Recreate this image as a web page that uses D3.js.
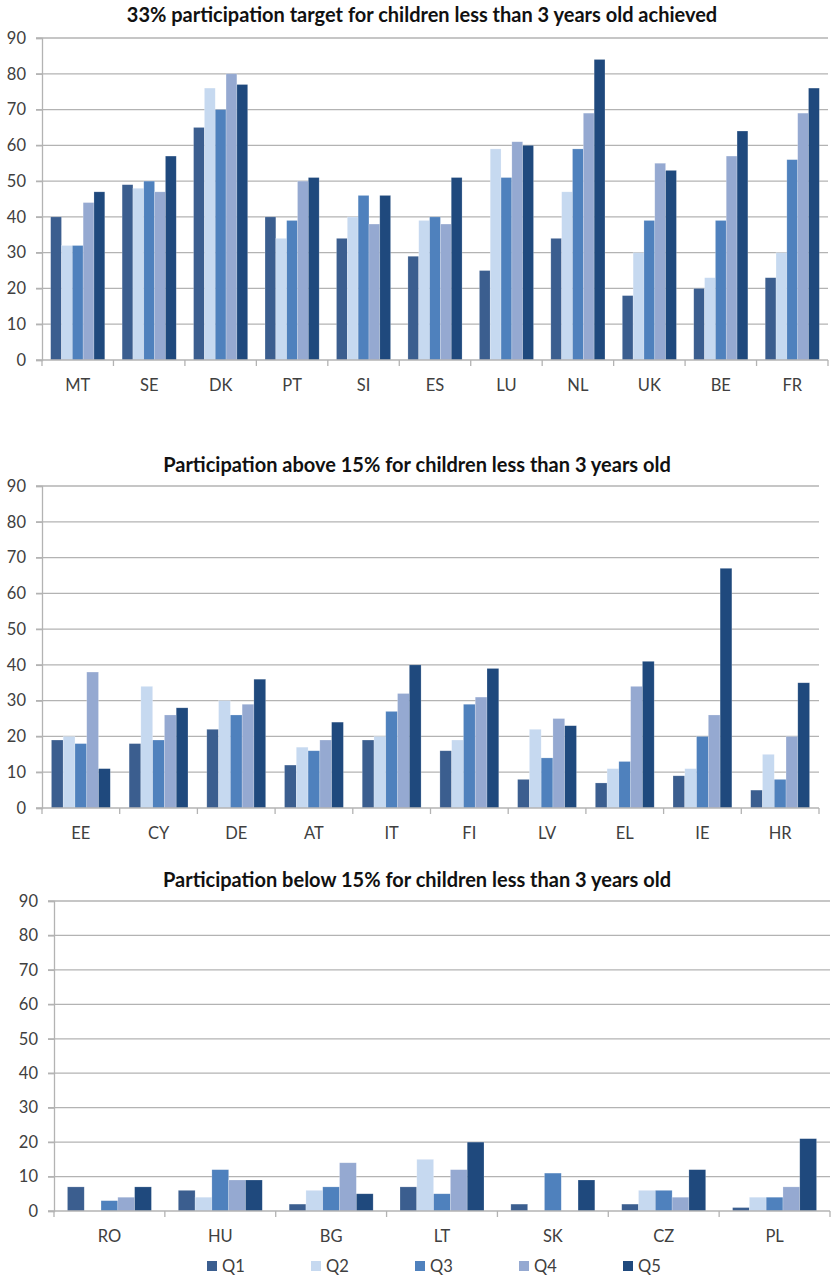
<!DOCTYPE html>
<html>
<head>
<meta charset="utf-8">
<script src="https://cdn.jsdelivr.net/npm/d3@7"></script>
<style>
  html, body { margin: 0; padding: 0; background: #fff; }
  svg text { font-family: Lato, "Open Sans", sans-serif; }
</style>
</head>
<body>
<svg id="chart" width="831" height="1277"></svg>
<script>
// Income quintiles shown in every panel
const quintiles = ["Q1", "Q2", "Q3", "Q4", "Q5"];
const quintileColors = ["#3b5e8f", "#c6d9f0", "#4f81bd", "#95a9d1", "#1f497d"];
const yTicks = [0, 10, 20, 30, 40, 50, 60, 70, 80, 90];

// Panel 1: countries that reached the 33% target
const targetTitle = "33% participation target for children less than 3 years old achieved";
const targetCountries = ["MT", "SE", "DK", "PT", "SI", "ES", "LU", "NL", "UK", "BE", "FR"];
const targetValues = [
  [40, 32, 32, 44, 47],
  [49, 48, 50, 47, 57],
  [65, 76, 70, 80, 77],
  [40, 34, 39, 50, 51],
  [34, 40, 46, 38, 46],
  [29, 39, 40, 38, 51],
  [25, 59, 51, 61, 60],
  [34, 47, 59, 69, 84],
  [18, 30, 39, 55, 53],
  [20, 23, 39, 57, 64],
  [23, 30, 56, 69, 76]
];

// Panel 2: participation above 15%
const aboveTitle = "Participation above 15% for children less than 3 years old";
const aboveCountries = ["EE", "CY", "DE", "AT", "IT", "FI", "LV", "EL", "IE", "HR"];
const aboveValues = [
  [19, 20, 18, 38, 11],
  [18, 34, 19, 26, 28],
  [22, 30, 26, 29, 36],
  [12, 17, 16, 19, 24],
  [19, 20, 27, 32, 40],
  [16, 19, 29, 31, 39],
  [8, 22, 14, 25, 23],
  [7, 11, 13, 34, 41],
  [9, 11, 20, 26, 67],
  [5, 15, 8, 20, 35]
];

// Panel 3: participation below 15%
const belowTitle = "Participation below 15% for children less than 3 years old";
const belowCountries = ["RO", "HU", "BG", "LT", "SK", "CZ", "PL"];
const belowValues = [
  [7, 0, 3, 4, 7],
  [6, 4, 12, 9, 9],
  [2, 6, 7, 14, 5],
  [7, 15, 5, 12, 20],
  [2, 0, 11, 0, 9],
  [2, 6, 6, 4, 12],
  [1, 4, 4, 7, 21]
];

const svg = d3.select("#chart");

function drawPanel(opts) {
  const { title, countries, values, left, right, top, bottom, titleX, titleY } = opts;
  const g = svg.append("g");

  const x = d3.scaleBand().domain(countries).range([left, right]).paddingInner(0).paddingOuter(0);
  // bars of one country sit side by side, with a gap on both sides of the group
  const inner = d3.scaleBand().domain(quintiles).range([0, x.bandwidth()])
    .paddingInner(0).paddingOuter(0.8);
  const y = d3.scaleLinear().domain([0, 90]).range([bottom, top]);

  // title
  g.append("text")
    .attr("x", titleX)
    .attr("y", titleY)
    .attr("text-anchor", "middle")
    .attr("font-weight", "bold")
    .attr("font-size", 20)
    .attr("fill", "#111")
    .text(title);

  // horizontal gridlines
  g.append("g").selectAll("line").data(yTicks.filter(d => d > 0)).join("line")
    .attr("x1", left - 6).attr("x2", right)
    .attr("y1", d => y(d)).attr("y2", d => y(d))
    .attr("stroke", "#b3b3b3").attr("stroke-width", 1.3);

  // y axis
  const yAxis = g.append("g").attr("transform", `translate(${left},0)`)
    .call(d3.axisLeft(y).tickValues(yTicks).tickSize(6).tickPadding(10));
  yAxis.select(".domain").attr("stroke", "#b3b3b3").attr("stroke-width", 1.3);
  yAxis.selectAll(".tick line").attr("stroke", "#b3b3b3").attr("stroke-width", 1.3);
  yAxis.selectAll(".tick text").attr("font-size", 16.5).attr("fill", "#404040")
    .attr("font-family", "Lato, 'Open Sans', sans-serif");

  // bars
  const groups = g.append("g").selectAll("g").data(countries).join("g")
    .attr("transform", c => `translate(${x(c)},0)`);
  groups.selectAll("rect")
    .data((c, i) => values[i].map((v, j) => ({ q: quintiles[j], v, j })))
    .join("rect")
    .attr("x", d => inner(d.q))
    .attr("width", inner.bandwidth())
    .attr("y", d => y(d.v))
    .attr("height", d => y(0) - y(d.v))
    .attr("fill", d => quintileColors[d.j])
    .attr("stroke", "rgba(255,255,255,0.35)")
    .attr("stroke-width", 0.6);

  // category axis with boundary ticks
  const boundaries = countries.map(c => x(c)).concat([right]);
  g.append("line")
    .attr("x1", left - 6).attr("x2", right)
    .attr("y1", y(0)).attr("y2", y(0))
    .attr("stroke", "#b3b3b3").attr("stroke-width", 1.3);
  g.append("g").selectAll("line").data(boundaries).join("line")
    .attr("x1", d => d).attr("x2", d => d)
    .attr("y1", y(0)).attr("y2", y(0) + 6)
    .attr("stroke", "#b3b3b3").attr("stroke-width", 1.3);
  g.append("g").selectAll("text").data(countries).join("text")
    .attr("x", c => x(c) + x.bandwidth() / 2)
    .attr("y", y(0) + 30.5)
    .attr("text-anchor", "middle")
    .attr("font-size", 16.5)
    .attr("fill", "#404040")
    .text(c => c);
}

drawPanel({ title: targetTitle, countries: targetCountries, values: targetValues,
  left: 42, right: 828, top: 38, bottom: 360, titleX: 422, titleY: 22 });
drawPanel({ title: aboveTitle, countries: aboveCountries, values: aboveValues,
  left: 42, right: 819, top: 486, bottom: 808, titleX: 417, titleY: 472 });
drawPanel({ title: belowTitle, countries: belowCountries, values: belowValues,
  left: 54, right: 830, top: 901, bottom: 1211, titleX: 417, titleY: 887 });

// legend
const legend = svg.append("g").selectAll("g").data(quintiles).join("g")
  .attr("transform", (d, i) => `translate(${207 + i * 104},1261)`);
legend.append("rect").attr("width", 10).attr("height", 10)
  .attr("fill", (d, i) => quintileColors[i]);
legend.append("text").attr("x", 15).attr("y", 10.5)
  .attr("font-size", 16.5).attr("fill", "#404040").text(d => d);
</script>
</body>
</html>
